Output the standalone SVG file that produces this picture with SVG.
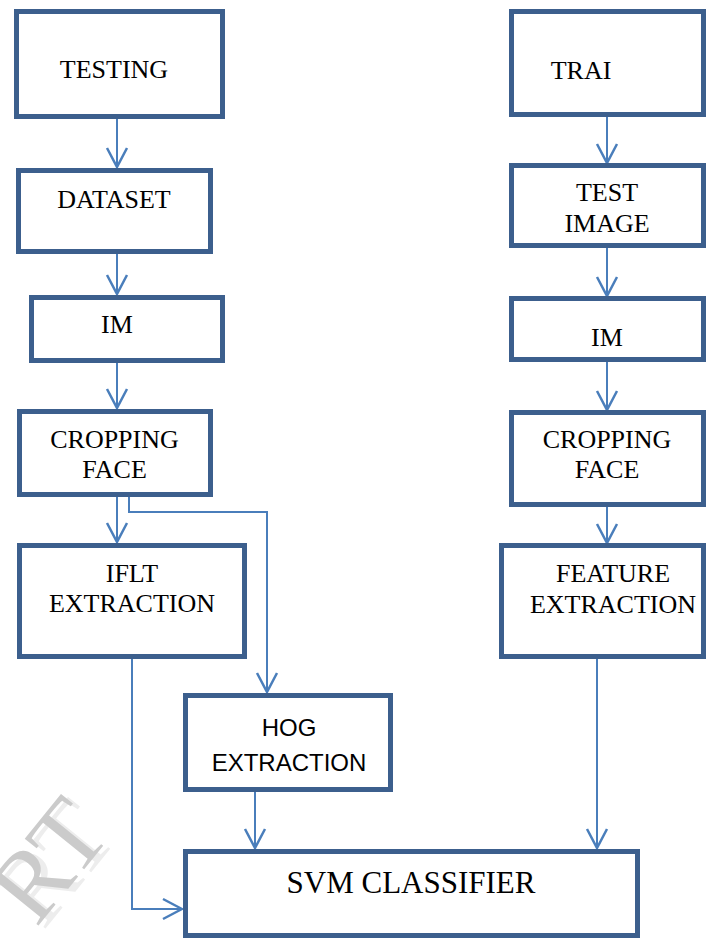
<svg xmlns="http://www.w3.org/2000/svg" width="713" height="938" viewBox="0 0 713 938">
<defs>
<style>
.box{fill:#ffffff;stroke:#3c5f8d;stroke-width:5}
.t{font-family:"Liberation Serif","Times New Roman",serif;font-size:26px;fill:#000;text-anchor:middle}
.s{font-family:"Liberation Sans",Arial,sans-serif;font-size:24px;fill:#000;text-anchor:middle}
.c{fill:none;stroke:#4a7ebb;stroke-width:2}
.wm{font-family:"Liberation Serif","Times New Roman",serif;font-size:100px;text-anchor:end}
</style>
<marker id="ah" markerUnits="userSpaceOnUse" viewBox="0 0 22 24" markerWidth="22" markerHeight="24" refX="20" refY="12" orient="auto">
<path d="M1,2 L20,12 L1,22" fill="none" stroke="#4a7ebb" stroke-width="2.5"/>
</marker>
</defs>
<rect width="713" height="938" fill="#ffffff"/>
<g id="watermark">
<text class="wm" transform="translate(101,860) rotate(-51)" x="30" y="0" fill="#ededed">RT</text>
<text class="wm" transform="translate(94,857) rotate(-51)" x="30" y="0" fill="#cbcbcb">RT</text>
</g>
<g id="connectors">
<line class="c" x1="117" y1="119" x2="117" y2="167" marker-end="url(#ah)"/>
<line class="c" x1="117" y1="254" x2="117" y2="294" marker-end="url(#ah)"/>
<line class="c" x1="117" y1="363" x2="117" y2="408" marker-end="url(#ah)"/>
<line class="c" x1="117" y1="497" x2="117" y2="542" marker-end="url(#ah)"/>
<path class="c" d="M129,497 V512 H267 V692" marker-end="url(#ah)"/>
<path class="c" d="M78,657 H132 V909 H182" marker-end="url(#ah)"/>
<line class="c" x1="255" y1="792" x2="255" y2="848" marker-end="url(#ah)"/>
<line class="c" x1="607" y1="117" x2="607" y2="163" marker-end="url(#ah)"/>
<line class="c" x1="607" y1="248" x2="607" y2="296" marker-end="url(#ah)"/>
<line class="c" x1="607" y1="362" x2="607" y2="410" marker-end="url(#ah)"/>
<line class="c" x1="607" y1="507" x2="607" y2="543" marker-end="url(#ah)"/>
<line class="c" x1="597" y1="659" x2="597" y2="848" marker-end="url(#ah)"/>
</g>
<g id="testing"><rect class="box" x="16.5" y="11.5" width="206" height="105"/><text class="t" x="114" y="78">TESTING</text></g>
<g id="dataset"><rect class="box" x="18.5" y="170.5" width="192" height="81"/><text class="t" x="114" y="208">DATASET</text></g>
<g id="im-left"><rect class="box" x="31.5" y="297.5" width="191" height="63"/><text class="t" x="117" y="333">IM</text></g>
<g id="crop-left"><rect class="box" x="19.5" y="411.5" width="191" height="83"/><text class="t" x="114.5" y="448">CROPPING</text><text class="t" x="114.5" y="478">FACE</text></g>
<g id="iflt"><rect class="box" x="19.5" y="545.5" width="225" height="111"/><text class="t" x="132" y="582">IFLT</text><text class="t" x="132" y="612">EXTRACTION</text></g>
<g id="hog"><rect class="box" x="185.5" y="695.5" width="205" height="94"/><text class="s" x="289" y="736">HOG</text><text class="s" x="289" y="771">EXTRACTION</text></g>
<g id="svm"><rect class="box" x="185.5" y="851.5" width="452" height="84"/><text class="t" x="411" y="893" style="font-size:31px">SVM CLASSIFIER</text></g>
<g id="trai"><rect class="box" x="511.5" y="11.5" width="192" height="103"/><text class="t" x="581" y="79">TRAI</text></g>
<g id="test-image"><rect class="box" x="511.5" y="165.5" width="192" height="80"/><text class="t" x="607" y="201">TEST</text><text class="t" x="607" y="232">IMAGE</text></g>
<g id="im-right"><rect class="box" x="511.5" y="298.5" width="192" height="61"/><text class="t" x="607" y="346">IM</text></g>
<g id="crop-right"><rect class="box" x="511.5" y="412.5" width="192" height="92"/><text class="t" x="607" y="448">CROPPING</text><text class="t" x="607" y="478">FACE</text></g>
<g id="feature"><rect class="box" x="501.5" y="545.5" width="202" height="111"/><text class="t" x="613" y="582">FEATURE</text><text class="t" x="613" y="613">EXTRACTION</text></g>
</svg>
